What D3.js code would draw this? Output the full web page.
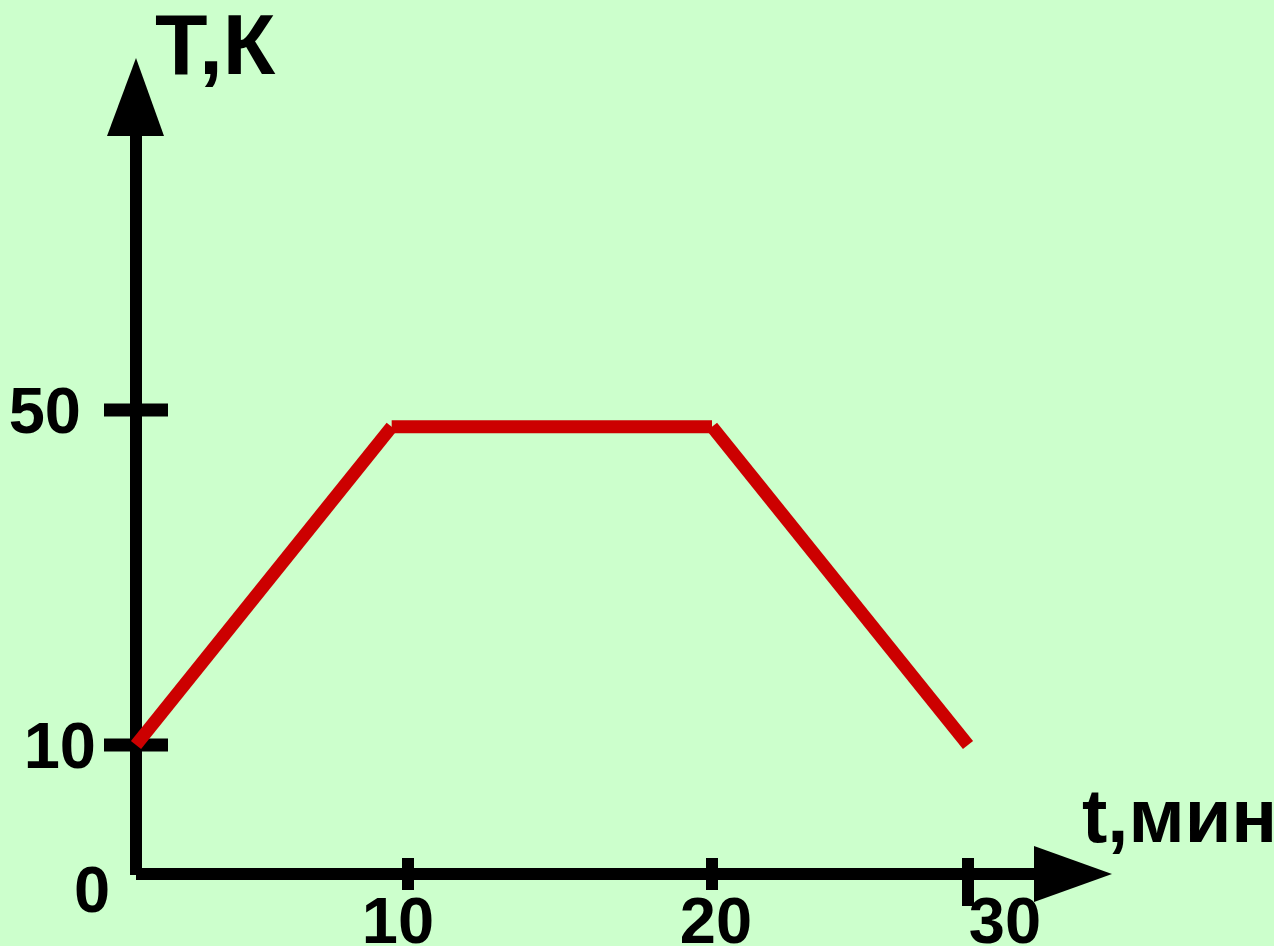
<!DOCTYPE html>
<html><head><meta charset="utf-8">
<script src="https://cdn.jsdelivr.net/npm/d3@7"></script>
<style>html,body{margin:0;padding:0;background:#CCFFCC;}svg{display:block;}</style>
</head><body>
<script>
// Data
const xTicks = [10, 20, 30];
const yTicks = [10, 50];
const segments = [
  [[0, 10], [9.4, 48]],
  [[9.4, 48], [20, 48]],
  [[20, 48], [30, 10]]
];
const xTitle = "t,мин";
const yTitle = "Т,К";
const originLabel = "0";

const W = 1274, H = 946;
const svg = d3.select("body").append("svg").attr("width", W).attr("height", H);
svg.append("rect").attr("width", W).attr("height", H).attr("fill", "#CCFFCC");

// piecewise (polylinear) scales
const x = d3.scaleLinear().domain([0, 10, 20, 30]).range([136, 408, 712, 968]);
const y = d3.scaleLinear().domain([0, 10, 50]).range([874, 745, 410]);

const font = "'Liberation Sans', Arial, sans-serif";
const black = "#000";

// Axes lines
svg.append("line").attr("x1", x(0)).attr("x2", x(0)).attr("y1", y(0) + 1).attr("y2", 130)
  .attr("stroke", black).attr("stroke-width", 12);
svg.append("line").attr("x1", x(0)).attr("x2", 1040).attr("y1", y(0)).attr("y2", y(0))
  .attr("stroke", black).attr("stroke-width", 12);
// arrows
svg.append("path").attr("d", `M${x(0)},58 L164,136 L107,136 Z`).attr("fill", black);
svg.append("path").attr("d", `M1112,${y(0)} L1034,902 L1034,846 Z`).attr("fill", black);

// y ticks
svg.selectAll(".yt").data(yTicks).enter().append("line")
  .attr("x1", x(0) - 32).attr("x2", x(0) + 32)
  .attr("y1", d => y(d)).attr("y2", d => y(d))
  .attr("stroke", black).attr("stroke-width", 13);
svg.selectAll(".yl").data(yTicks).enter().append("text")
  .attr("x", d => d === 50 ? 81 : 96)
  .attr("y", d => y(d) + 23)
  .attr("text-anchor", "end")
  .attr("font-family", font).attr("font-weight", "bold").attr("font-size", 65)
  .attr("fill", black).text(d => d);

// x ticks
svg.selectAll(".xt").data(xTicks).enter().append("line")
  .attr("x1", d => x(d)).attr("x2", d => x(d))
  .attr("y1", y(0) - 16).attr("y2", d => d === 30 ? y(0) + 32 : y(0) + 16)
  .attr("stroke", black).attr("stroke-width", 12);
svg.selectAll(".xl").data(xTicks).enter().append("text")
  .attr("x", d => d === 30 ? x(d) + 37 : x(d) - 10 + (d === 20 ? 14 : 0))
  .attr("y", 943)
  .attr("text-anchor", "middle")
  .attr("font-family", font).attr("font-weight", "bold").attr("font-size", 65)
  .attr("fill", black).text(d => d);

svg.append("text").attr("x", 92).attr("y", 912).attr("text-anchor", "middle")
  .attr("font-family", font).attr("font-weight", "bold").attr("font-size", 65)
  .attr("fill", black).text(originLabel);

// titles
svg.append("text").attr("x", 155).attr("y", 74)
  .attr("font-family", font).attr("font-weight", "bold").attr("font-size", 86)
  .attr("fill", black).text(yTitle);
svg.append("text").attr("x", 1082).attr("y", 842)
  .attr("font-family", font).attr("font-weight", "bold").attr("font-size", 76)
  .attr("fill", black).text(xTitle);

// red graph, drawn as separate segments
svg.selectAll(".seg").data(segments).enter().append("line")
  .attr("x1", d => x(d[0][0])).attr("y1", d => y(d[0][1]))
  .attr("x2", d => x(d[1][0])).attr("y2", d => y(d[1][1]))
  .attr("stroke", "#CC0000").attr("stroke-width", 13).attr("stroke-linecap", "butt");
</script>
</body></html>
